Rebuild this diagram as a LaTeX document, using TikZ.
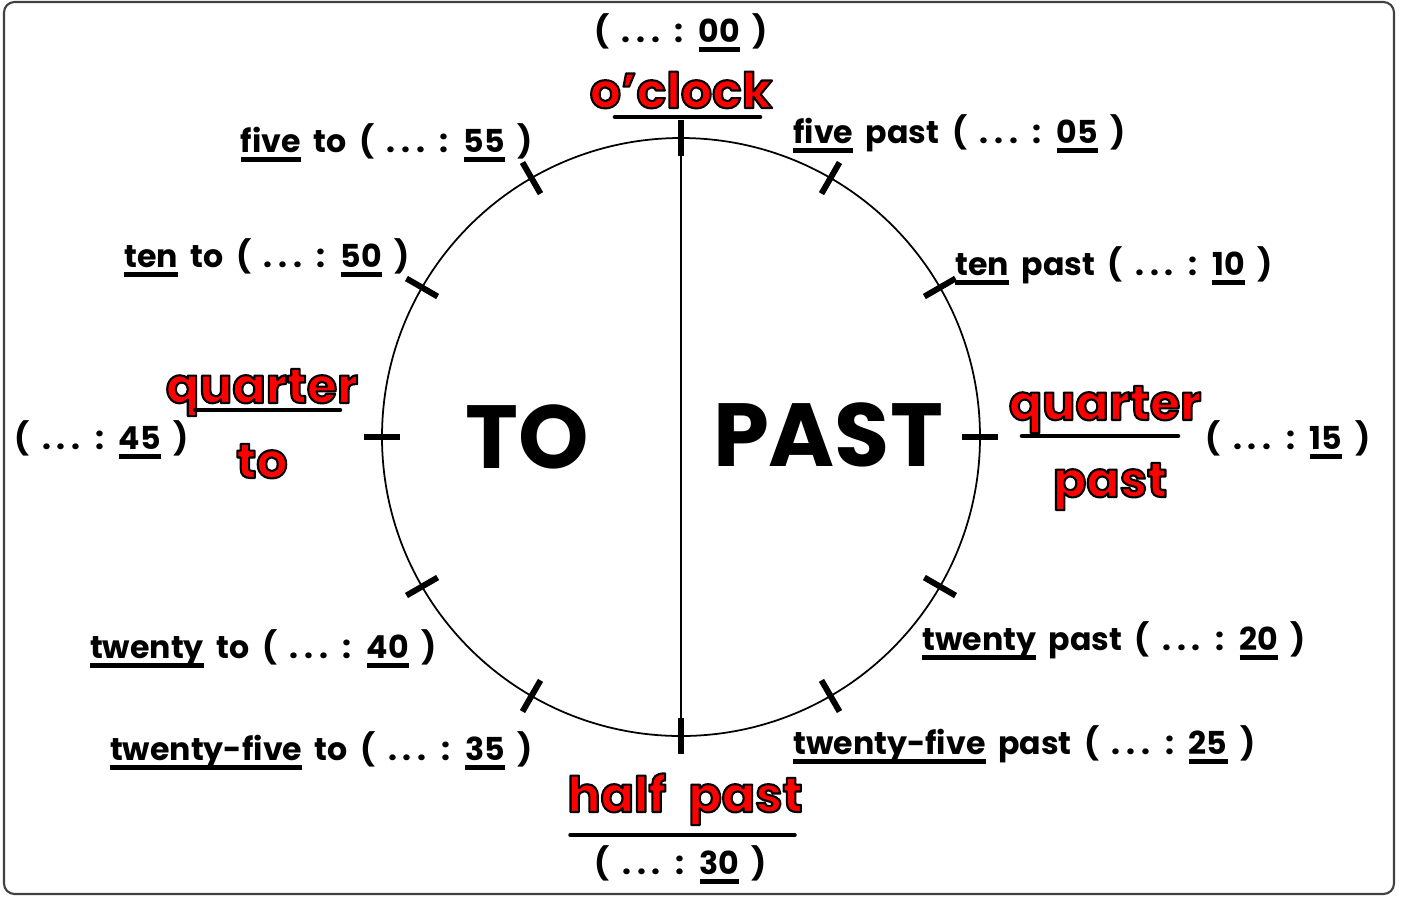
\documentclass[tikz,border=0pt]{standalone}
\usepackage{fontspec}
\setmainfont{Poppins}
\usepackage{xcolor}
\usetikzlibrary{positioning,calc}
\newcommand{\ulw}[1]{\setbox0=\hbox{#1}\leavevmode\rlap{\raisebox{-0.33em}{\rule{\wd0}{0.17em}}}\box0\relax}
\newcommand{\redw}[1]{{\color{red}\special{pdf:literal direct 0 0 0 RG 1.2 w 1 j 2 Tr}#1\special{pdf:literal direct 0 Tr}}}
\newcommand{\dd}{.\kern0.18em.\kern0.18em.}

\begin{document}
\begin{tikzpicture}[x=0.02cm, y=-0.02cm,
		lbl/.style={font={\fontsize{18}{18}\selectfont\bfseries\spaceskip=0.4em\relax}, inner sep=0pt},
		big/.style={font={\fontsize{28}{28}\selectfont\bfseries\spaceskip=0.45em\relax}, inner sep=0pt},
		side/.style={font=\fontsize{51}{51}\selectfont\bfseries, inner sep=0pt},
		bar/.style={line width=2.6pt, line cap=round},
		tickmark/.style={line width=3.4pt}]
			\useasboundingbox (0,0) rectangle (1402,897);
			\draw[black!75, line width=1.2pt, rounded corners=6pt] (4,2) rectangle (1394,894);

			% clock face
			\coordinate (c) at (681,437);
			\draw[line width=1pt] (c) circle (299);
			\coordinate (top) at (681,138);
			\coordinate (bot) at (681,736);
			\draw[line width=1.1pt] (top) -- (bot);
			\foreach \a in {0,30,...,330}
				\draw[tickmark] ($(c)+(\a:281)$) -- ($(c)+(\a:317)$);

			\node[side] (to) at (527,437) {TO};
			\node[side] (past) at (828,435) {PAST};

			% top and bottom
			\node[lbl, anchor=base] (m00) at (681,42) {( \dd{} : \ulw{00} )};
			\node[big, anchor=base] (oclock) at (681,108) {\redw{o'clock}};
			\draw[bar] (615,117) -- (760,117);
			\node[big, anchor=base] (halfpast) at (685,812) {\redw{half past}};
			\draw[bar, line width=2pt] (570,835) -- (795,835);
			\node[lbl, anchor=base] (m30) at (681,874) {( \dd{} : \ulw{30} )};

			% past side
			\node[lbl, anchor=base west] (m05) at (793,143) {\ulw{five} past ( \dd{} : \ulw{05} )};
			\node[lbl, anchor=base west] (m10) at (955,275) {\ulw{ten} past ( \dd{} : \ulw{10} )};
			\node[big, anchor=base] (qpast) at (1105,420) {\redw{quarter}};
			\draw[bar] (1022,436) -- (1178,436);
			\node[big, anchor=base] (qpast2) at (1110,497) {\redw{past}};
			\node[lbl, anchor=base west] (m15) at (1205,449) {( \dd{} : \ulw{15} )};
			\node[lbl, anchor=base west] (m20) at (922,650) {\ulw{twenty} past ( \dd{} : \ulw{20} )};
			\node[lbl, anchor=base west] (m25) at (793,754) {\ulw{twenty-five} past ( \dd{} : \ulw{25} )};

			% to side
			\node[lbl, anchor=base east] (m55) at (533,152) {\ulw{five} to ( \dd{} : \ulw{55} )};
			\node[lbl, anchor=base east] (m50) at (410,267) {\ulw{ten} to ( \dd{} : \ulw{50} )};
			\node[big, anchor=base] (qto) at (262,403) {\redw{quarter}};
			\draw[bar] (195,410) -- (340,410);
			\node[big, anchor=base] (qto2) at (262,478) {\redw{to}};
			\node[lbl, anchor=base west] (m45) at (14,449) {( \dd{} : \ulw{45} )};
			\node[lbl, anchor=base east] (m40) at (437,658) {\ulw{twenty} to ( \dd{} : \ulw{40} )};
			\node[lbl, anchor=base east] (m35) at (533,760) {\ulw{twenty-five} to ( \dd{} : \ulw{35} )};
		\end{tikzpicture}
\end{document}
